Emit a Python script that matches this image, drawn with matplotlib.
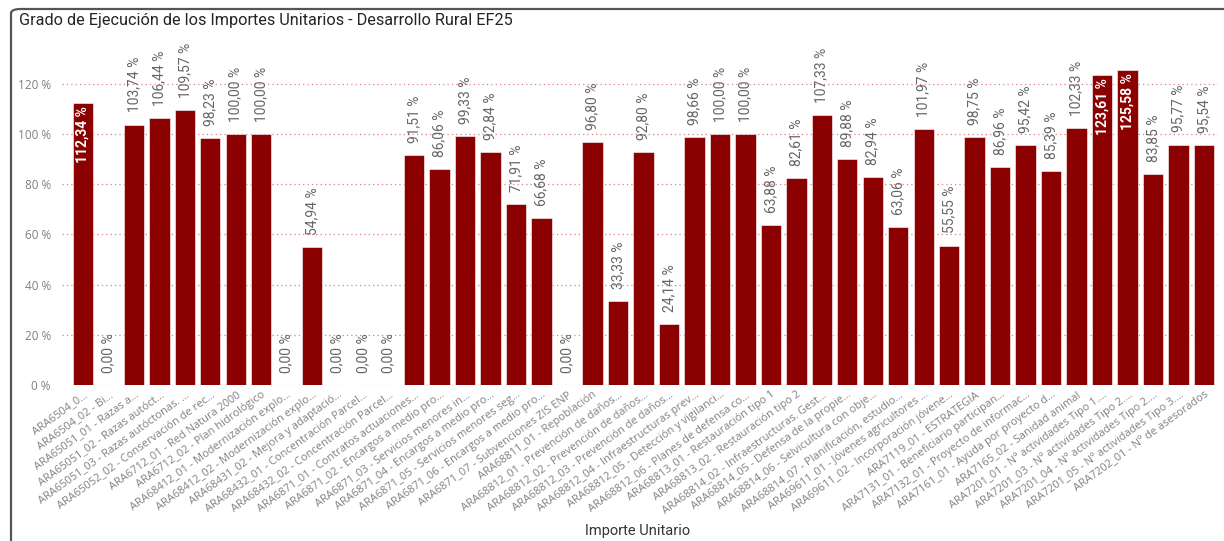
import matplotlib
matplotlib.use("Agg")
import matplotlib.pyplot as plt
from matplotlib.patches import FancyBboxPatch
from matplotlib.ticker import FuncFormatter

# Importes unitarios (etiquetas tal como aparecen en el eje)
categories = [
    "ARA6504_0...",
    "ARA6504_02 - Bi...",
    "ARA65051_01 - Razas a...",
    "ARA65051_02 - Razas autóct...",
    "ARA65051_03 - Razas autóctonas. ...",
    "ARA65052_02 - Conservación de rec...",
    "ARA6712_01 - Red Natura 2000",
    "ARA6712_02 - Plan hidrológico",
    "ARA68412_01 - Modernización explo...",
    "ARA68412_02 - Modernización explo...",
    "ARA68431_02 - Mejora y adaptació...",
    "ARA68432_01 - Concentración Parcel...",
    "ARA68432_02 - Concentración Parcel...",
    "ARA6871_01 - Contratos actuaciones...",
    "ARA6871_02 - Encargos a medio pro...",
    "ARA6871_03 - Servicios menores in...",
    "ARA6871_04 - Encargos a medio pro...",
    "ARA6871_05 - Servicios menores seg...",
    "ARA6871_06 - Encargos a medio pro...",
    "ARA6871_07 - Subvenciones ZIS ENP",
    "ARA68811_01 - Repoblación",
    "ARA68812_01 - Prevención de daños...",
    "ARA68812_02 - Prevención de daños...",
    "ARA68812_03 - Prevención de daños...",
    "ARA68812_04 - Infraestructuras prev...",
    "ARA68812_05 - Detección y vigilanci...",
    "ARA68812_06 - Planes de defensa co...",
    "ARA68813_01 - Restauración tipo 1",
    "ARA68813_02 - Restauración tipo 2",
    "ARA68814_02 - Infraestructuras. Gest...",
    "ARA68814_05 - Defensa de la propie...",
    "ARA68814_06 - Selvicultura con obje...",
    "ARA68814_07 - Planificación, estudio...",
    "ARA69611_01 - Jóvenes agricultores ...",
    "ARA69611_02 - Incorporación jóvene...",
    "ARA7119_01 - ESTRATEGIA",
    "ARA7131_01 - Beneficiario participan...",
    "ARA7132_01 - Proyecto de informac...",
    "ARA7161_01 - Ayuda por proyecto d...",
    "ARA7165_02 - Sanidad animal",
    "ARA7201_01 - Nº actividades Tipo 1....",
    "ARA7201_03 - Nº actividades Tipo 2....",
    "ARA7201_04 - Nº actividades Tipo 2....",
    "ARA7201_05 - Nº actividades Tipo 3....",
    "ARA7202_01 - Nº de asesorados",
]

# Grado de ejecución (%)
execution_pct = [
    112.34, 0.00, 103.74, 106.44, 109.57, 98.23, 100.00, 100.00,
    0.00, 54.94, 0.00, 0.00, 0.00,
    91.51, 86.06, 99.33, 92.84, 71.91, 66.68, 0.00,
    96.80, 33.33, 92.80, 24.14, 98.66, 100.00, 100.00,
    63.88, 82.61, 107.33, 89.88, 82.94, 63.06,
    101.97, 55.55, 98.75, 86.96, 95.42, 85.39, 102.33,
    123.61, 125.58, 83.85, 95.77, 95.54,
]

y_ticks = [0, 20, 40, 60, 80, 100, 120]

BAR_COLOR = "#8b0000"
GRID_COLOR = "#d98080"
TICK_COLOR = "#808080"
LABEL_COLOR = "#666666"

W, H = 1224, 541
fig = plt.figure(figsize=(W / 100, H / 100), dpi=100)
fig.patch.set_facecolor("white")

# Marco de la tarjeta
card = FancyBboxPatch((11 / W, -0.05), 1.2, (H - 9) / H + 0.05,
                      boxstyle="round,pad=0,rounding_size=0.008",
                      transform=fig.transFigure, facecolor="none",
                      edgecolor="#555555", linewidth=1.6, zorder=0)
fig.patches.append(card)

fig.text(19 / W, 1 - 21 / H, "Grado de Ejecución de los Importes Unitarios - Desarrollo Rural EF25",
         fontsize=11.7, family="Roboto", color="#252423", va="center", ha="left")

ax_left, ax_right = 62 / W, 1218 / W
ax_bottom, ax_top = (H - 385) / H, (H - 40) / H
ax = fig.add_axes([ax_left, ax_bottom, ax_right - ax_left, ax_top - ax_bottom])

x = list(range(len(categories)))
ax.bar(x, execution_pct, width=0.8, color=BAR_COLOR, edgecolor="white",
       linewidth=0.4, zorder=3)

y_max = (385 - 40) / 2.511
ax.set_ylim(0, y_max)
ax.set_xlim(-0.82, len(categories) - 1 + 0.55)

ax.set_yticks(y_ticks)
ax.yaxis.set_major_formatter(FuncFormatter(lambda v, p: f"{int(v)} %"))
ax.grid(axis="y", color=GRID_COLOR, linestyle=(0, (1, 2.5)), linewidth=0.9, zorder=1)
ax.set_axisbelow(True)
for s in ax.spines.values():
    s.set_visible(False)
ax.tick_params(axis="both", length=0, colors=TICK_COLOR)
ax.tick_params(axis="y", labelsize=8.5, pad=8)
for lab in ax.get_yticklabels():
    lab.set_family("Open Sans")

ax.set_xticks(x)
ax.set_xticklabels(categories, rotation=36, ha="right", va="top",
                   rotation_mode="anchor", fontsize=7.9, family="Open Sans",
                   color=TICK_COLOR)
ax.tick_params(axis="x", pad=3)

fig.text(0.5 * (ax_left + ax_right) - 0.002, 1 - 531 / H, "Importe Unitario",
         fontsize=10.5, family="Roboto", color="#333333", ha="center", va="center")

# Etiquetas de datos: dentro de la barra si no caben encima
for xi, v in zip(x, execution_pct):
    txt = f"{v:.2f} %".replace(".", ",")
    if v > 110:
        ax.text(xi, v - 1.2, txt, rotation=90, ha="center", va="top",
                fontsize=10, family="Roboto", fontweight="bold",
                color="white", zorder=4)
    else:
        ax.text(xi, v + 4.8, txt, rotation=90, ha="center", va="bottom",
                fontsize=10, family="Roboto", color=LABEL_COLOR, zorder=4)

fig.savefig("out.png", dpi=100, facecolor="white")
